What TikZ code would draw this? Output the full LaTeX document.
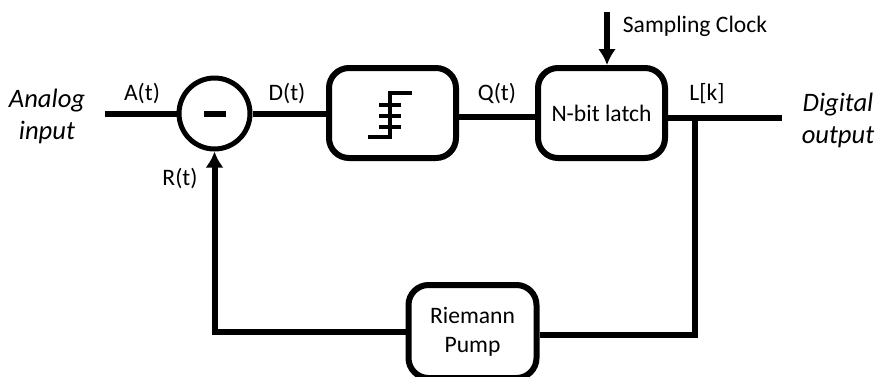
\documentclass[tikz,border=0pt]{standalone}
\usepackage{fontspec}
\setmainfont{Carlito}
\usetikzlibrary{arrows.meta}

\begin{document}
\begin{tikzpicture}[x=1pt, y=-1pt]
    \tikzset{
        block/.style={
            draw=black, fill=white, line width=6pt,
            minimum width=127pt, minimum height=90pt,
            rounded corners=20pt, font=\fontsize{23.6}{29}\selectfont,
            align=center, inner sep=0pt
        },
        sumnode/.style={
            draw=black, fill=white, circle, line width=5pt,
            minimum size=71pt, inner sep=0pt
        },
        wire/.style={line width=6pt},
        feed/.style={line width=6pt, -{Latex[length=16pt,width=18pt]}},
        glyph/.style={line width=4pt},
        lbl/.style={font=\fontsize{23.6}{29}\selectfont, inner sep=0pt, align=center},
        side/.style={font=\fontsize{26.6}{32}\itshape, inner sep=0pt, align=center},
    }
    \useasboundingbox (0,0) rectangle (877,376);

    % ==== Blocks ====
    \node[sumnode] (sub) at (214.5,113.5) {};
    \node[block] (quant) at (392.5,113) {};
    \node[block] (latch) at (601.5,113) {N-bit latch};
    \node[block, minimum width=128pt, minimum height=93pt] (pump) at (472.5,331.5) {Riemann\\Pump};

    % ==== Free ends ====
    \coordinate (in) at (105,114);
    \coordinate (out) at (782,118);
    \coordinate (tap) at (695,118);
    \coordinate (clk) at (607,12);

    % ==== Forward path ====
    \draw[wire] (in) -- (in -| sub.west);
    \draw[wire] (sub.east) -- (sub.east -| quant.west);
    \draw[wire] ([yshift=-4pt]quant.east) -- ([yshift=-4pt]latch.west);
    \draw[wire] (out -| latch.east) -- (out);
    \draw[feed] (clk) -- (clk |- latch.north);

    % ==== Feedback path ====
    \draw[wire] ([yshift=-3.5pt]pump.east) -| (tap);
    \draw[feed] (pump.west) -| (sub.south);

    % ==== Minus sign ====
    \draw[wire] (204,114) -- (226,114);

    % ==== Staircase inside the quantizer ====
    \draw[glyph] (368,137) -- (390,137) -- (390,93) -- (412,93);
    \draw[glyph] (379,105) -- (401,105);
    \draw[glyph] (379,116) -- (401,116);
    \draw[glyph] (379,127) -- (401,127);

    % ==== Signal labels ====
    \node[lbl] (at) at (142,93) {A(t)};
    \node[lbl] (dt) at (287,93) {D(t)};
    \node[lbl] (qt) at (497,93) {Q(t)};
    \node[lbl] (rt) at (180,178) {R(t)};
    \node[lbl] (lk) at (707,94) {L[k]};
    \node[lbl] (sc) at (695,26) {Sampling Clock};

    % ==== Input and output names ====
    \node[side] (ain) at (47,116) {Analog\\input};
    \node[side] (dout) at (838,120) {Digital\\output};
\end{tikzpicture}
\end{document}
